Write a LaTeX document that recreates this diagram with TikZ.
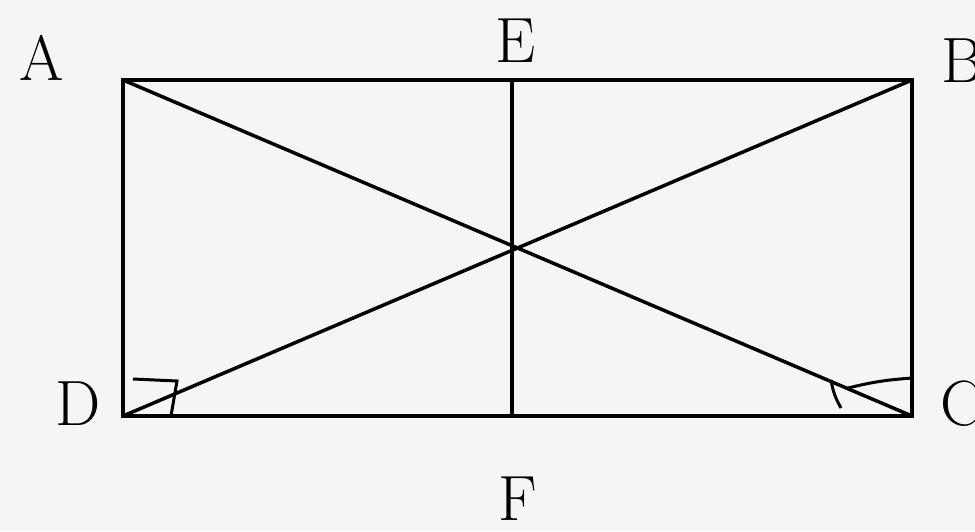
\documentclass[tikz,border=0pt]{standalone}
\begin{document}
\begin{tikzpicture}[x=1pt,y=-1pt,line width=3.5pt,line join=miter,
  lbl/.style={font=\fontsize{64}{64}\selectfont,inner sep=0pt,anchor=base},
  mk/.style={line width=3pt}]
\fill[black!4] (0,0) rectangle (975,531);
\useasboundingbox (0,0) rectangle (975,531);
\coordinate (A) at (123,80);
\coordinate (B) at (912,80);
\coordinate (C) at (912,416);
\coordinate (D) at (123,416);
\coordinate (E) at (512,80);
\coordinate (F) at (512,416);
\draw (A) -- (B) -- (C) -- (D) -- cycle;
\draw (A) -- (C);
\draw (B) -- (D);
\draw (E) -- (F);
% angle marks
\coordinate (d1) at (133,379);
\coordinate (d2) at (177,381);
\coordinate (d3) at (171,416);
\draw[mk] (d1) -- (d2) -- (d3);
\coordinate (c1) at (831,380);
\coordinate (c2) at (841,408);
\draw[mk] (c1) to[bend right=10] (c2);
\coordinate (c3) at (848,388);
\coordinate (c4) at (913,378);
\draw[mk] (c3) to[bend left=5] (c4);
% labels
\node[lbl] (lA) at (42,80) {A};
\node[lbl] (lB) at (962,82) {B};
\node[lbl] (lE) at (516,62) {E};
\node[lbl] (lF) at (518,520) {F};
\node[lbl] (lC) at (962,425) {C};
\node[lbl] (lD) at (78,425) {D};
\end{tikzpicture}
\end{document}
